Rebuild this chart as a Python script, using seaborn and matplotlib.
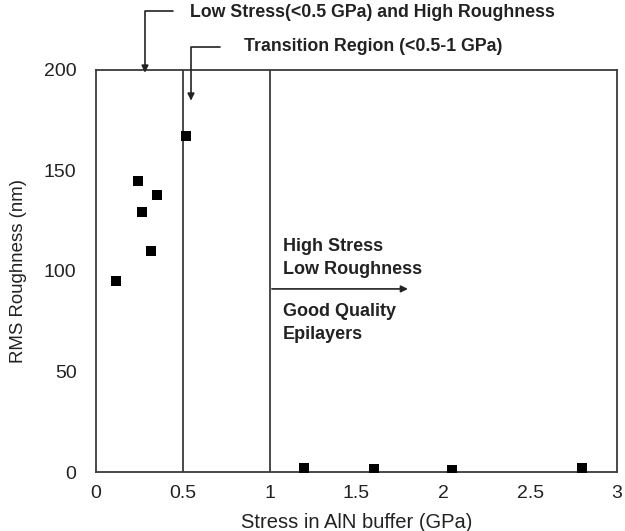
import matplotlib
matplotlib.use("Agg")
import matplotlib.pyplot as plt
import seaborn as sns
import pandas as pd

# Data
stress = [0.115, 0.24, 0.265, 0.315, 0.35, 0.516, 1.20, 1.60, 2.05, 2.80]
roughness = [94.9, 144.8, 129.2, 109.6, 137.5, 166.8, 2.1, 1.5, 1.0, 1.8]
region_bounds = [0.5, 1.0]
x_ticks = [0, 0.5, 1, 1.5, 2, 2.5, 3]
x_tick_labels = ["0", "0.5", "1", "1.5", "2", "2.5", "3"]
y_ticks = [0, 50, 100, 150, 200]

df = pd.DataFrame({"stress": stress, "roughness": roughness})

sns.set_theme(style="white")
plt.rcParams["font.family"] = ["Liberation Sans", "DejaVu Sans"]

fig = plt.figure(figsize=(6.25, 5.31), dpi=100)
ax = fig.add_axes([0.1536, 0.111, 0.8336, 0.758])

sns.scatterplot(data=df, x="stress", y="roughness", marker="s", s=60,
                color="black", edgecolor="black", linewidth=0, ax=ax, zorder=3)

line_col = "#3a3a3a"
txt_col = "#222222"
for xb in region_bounds:
    ax.axvline(xb, color=line_col, lw=1.3)

ax.set_xlim(0, 3)
ax.set_ylim(0, 200)
ax.set_xticks(x_ticks)
ax.set_xticklabels(x_tick_labels)
ax.set_yticks(y_ticks)
ax.tick_params(length=0, labelsize=14, colors=txt_col)
ax.tick_params(axis="y", pad=14)
ax.tick_params(axis="x", pad=9)
for sp in ax.spines.values():
    sp.set_color(line_col)
    sp.set_linewidth(1.3)
ax.set_xlabel("Stress in AlN buffer (GPa)", fontsize=14.5, color=txt_col, labelpad=8)
ax.set_ylabel("RMS Roughness (nm)", fontsize=13.4, color=txt_col, labelpad=12)

ak = dict(arrowstyle="-|>", color=txt_col, lw=1.2, mutation_scale=10,
          shrinkA=0, shrinkB=0)
# Arrow 1 (elbow)
ax.annotate("", xy=(0.282, 198.5), xytext=(0.443, 228.9),
            arrowprops=dict(connectionstyle="angle,angleA=180,angleB=90,rad=0", **ak),
            annotation_clip=False)
ax.text(1.589, 228.6, "Low Stress(<0.5 GPa) and High Roughness", ha="center", va="center",
        fontsize=12.8, fontweight="bold", color=txt_col, clip_on=False)
# Arrow 2 (elbow)
ax.annotate("", xy=(0.547, 184.6), xytext=(0.714, 211.4),
            arrowprops=dict(connectionstyle="angle,angleA=180,angleB=90,rad=0", **ak),
            annotation_clip=False)
ax.text(1.595, 211.4, "Transition Region (<0.5-1 GPa)", ha="center", va="center",
        fontsize=12.8, fontweight="bold", color=txt_col, clip_on=False)

# Right region annotation
ax.annotate("", xy=(1.796, 91.0), xytext=(1.013, 91.0), arrowprops=ak)
for label, yv in [("High Stress", 111.9), ("Low Roughness", 100.5),
                  ("Good Quality", 79.6), ("Epilayers", 68.2)]:
    ax.text(1.077, yv, label, ha="left", va="center", fontsize=13,
            fontweight="bold", color=txt_col)

fig.savefig("out.png", dpi=100)
